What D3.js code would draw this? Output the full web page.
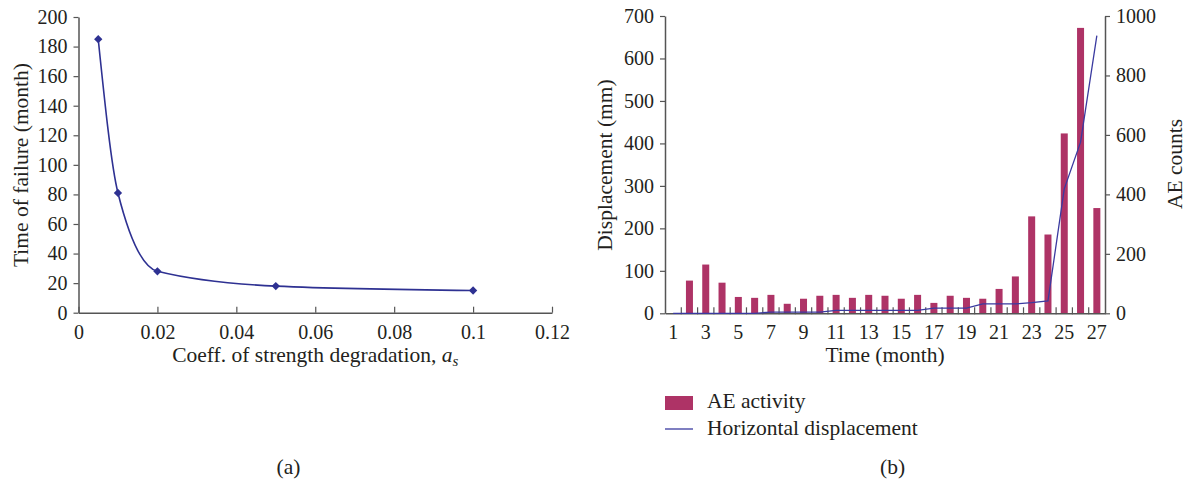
<!DOCTYPE html>
<html>
<head>
<meta charset="utf-8">
<script src="https://cdn.jsdelivr.net/npm/d3@7"></script>
<style>
  body { margin: 0; background: #fff; }
  svg text { font-family: 'Liberation Serif', 'DejaVu Serif', serif; fill: #231f20; }
</style>
</head>
<body>
<div class="chart"></div>
<script>
// (a) time of failure vs coefficient of strength degradation
const coeffs = [0.005, 0.01, 0.02, 0.05, 0.1]
const failureMonths = [185, 81, 28, 18, 15]
const coeffTicks = [0, 0.02, 0.04, 0.06, 0.08, 0.1, 0.12]
const failureTicks = [0, 20, 40, 60, 80, 100, 120, 140, 160, 180, 200]

// (b) AE activity and horizontal displacement by month
const months = d3.range(1, 28)
const aeCounts = [0, 110, 164, 103, 55, 52, 62, 32, 49, 59, 62, 52, 62, 59, 49, 62, 35, 59, 52, 49, 82, 124, 326, 265, 605, 960, 354]
const displacement = [0, 0, 0, 0, 0, 0, 3, 3, 3, 3, 7, 7, 7, 7, 7, 7, 12, 12, 12, 22, 22, 22, 25, 29, 293, 403, 654]
const dispTicks = [0, 100, 200, 300, 400, 500, 600, 700]
const countTicks = [0, 200, 400, 600, 800, 1000]
const monthLabels = months.filter(m => m % 2 === 1)

const W = 1187, H = 481
const tickFont = 20
const titleFont = 21.5
const serif = "'Liberation Serif', 'DejaVu Serif', serif"
const navy = '#2e3192'
const barColour = '#ae3366'
const axisColour = '#555'

const svg = d3.select('.chart').append('svg')
    .attr('width', W)
    .attr('height', H)
    .attr('font-family', serif)

function styleAxis(g) {
    g.attr('font-size', tickFont).attr('font-family', serif)
    g.select('.domain').style('stroke', axisColour).style('stroke-width', 1.5)
    g.selectAll('.tick line').style('stroke', axisColour).style('stroke-width', 1.2)
    g.selectAll('.tick text').style('fill', '#231f20')
}

function title(x, y, text, rotate) {
    return svg.append('text')
        .attr('transform', `translate(${x},${y})` + (rotate ? ' rotate(-90)' : ''))
        .attr('text-anchor', 'middle')
        .attr('font-size', titleFont)
        .text(text)
}

// ---------- (a) ----------
const xA = d3.scaleLinear().domain([0, 0.12]).range([78.5, 552])
const yA = d3.scaleLinear().domain([0, 200]).range([312.7, 17])

svg.append('g')
    .attr('transform', `translate(0,${yA(0)})`)
    .call(d3.axisBottom(xA).tickValues(coeffTicks).tickFormat(d => String(+d.toFixed(2)))
        .tickSizeInner(-6).tickSizeOuter(0).tickPadding(12))
    .call(styleAxis)

svg.append('g')
    .attr('transform', `translate(${xA(0)},0)`)
    .call(d3.axisLeft(yA).tickValues(failureTicks).tickSizeInner(5).tickSizeOuter(0).tickPadding(6))
    .call(styleAxis)

const ptsA = coeffs.map((c, i) => [c, failureMonths[i]])

svg.append('path')
    .datum(ptsA)
    .attr('fill', 'none')
    .attr('stroke', navy)
    .attr('stroke-width', 1.6)
    .attr('d', d3.line().x(d => xA(d[0])).y(d => yA(d[1])).curve(d3.curveMonotoneX))

svg.selectAll('.diamond')
    .data(ptsA)
    .enter().append('path')
    .attr('class', 'diamond')
    .attr('transform', d => `translate(${xA(d[0])},${yA(d[1])})`)
    .attr('d', d3.symbol().type(d3.symbolDiamond2).size(44))
    .attr('fill', navy)

title(28, 165, 'Time of failure (month)', true)

const xlab = title((xA(0) + xA(0.12)) / 2, 362, '')
xlab.append('tspan').text('Coeff. of strength degradation, ')
xlab.append('tspan').attr('font-style', 'italic').text('a')
xlab.append('tspan').attr('font-style', 'italic').attr('font-size', 15).attr('dy', 4).text('s')

title(288.5, 474, '(a)')

// ---------- (b) ----------
const left = 665, right = 1105
const xB = d3.scaleBand().domain(months).range([left, right]).paddingInner(0.57).paddingOuter(0.285)
const xEdge = d3.scaleBand().domain(months).range([left, right])
const yL = d3.scaleLinear().domain([0, 700]).range([313.3, 16])
const yR = d3.scaleLinear().domain([0, 1000]).range([313.3, 16])

svg.selectAll('.ae-bar')
    .data(months)
    .enter().append('rect')
    .attr('class', 'ae-bar')
    .attr('x', m => xB(m))
    .attr('y', (m, i) => yR(aeCounts[i]))
    .attr('width', xB.bandwidth())
    .attr('height', (m, i) => yR(0) - yR(aeCounts[i]))
    .attr('fill', barColour)

// category boundary ticks
const gx = svg.append('g')
    .attr('transform', `translate(0,${yL(0)})`)
    .call(d3.axisBottom(xEdge).tickValues(monthLabels).tickSize(0).tickPadding(12))
    .call(styleAxis)
gx.selectAll('.edge')
    .data(months.slice(1))
    .enter().append('line')
    .attr('class', 'edge')
    .attr('x1', m => xEdge(m)).attr('x2', m => xEdge(m))
    .attr('y1', 1).attr('y2', -6)
    .style('stroke', axisColour).style('stroke-width', 1.2)

svg.append('g')
    .attr('transform', `translate(${left},0)`)
    .call(d3.axisLeft(yL).tickValues(dispTicks).tickSizeInner(5).tickSizeOuter(0).tickPadding(6))
    .call(styleAxis)

svg.append('g')
    .attr('transform', `translate(${right},0)`)
    .call(d3.axisRight(yR).tickValues(countTicks).tickFormat(d3.format('d')).tickSizeInner(5).tickSizeOuter(0).tickPadding(6))
    .call(styleAxis)

svg.append('path')
    .datum(displacement)
    .attr('fill', 'none')
    .attr('stroke', '#3a3aa0')
    .attr('stroke-width', 1.3)
    .attr('d', d3.line().x((d, i) => xEdge(months[i]) + xEdge.bandwidth() / 2).y(d => yL(d)))

title(612, 165, 'Displacement (mm)', true)
title(1182, 164, 'AE counts', true)
title((left + right) / 2, 362, 'Time (month)')

// legend
svg.append('rect')
    .attr('x', 665).attr('y', 396)
    .attr('width', 28).attr('height', 14)
    .attr('fill', barColour)
svg.append('text')
    .attr('x', 707).attr('y', 408)
    .attr('font-size', titleFont)
    .text('AE activity')
svg.append('line')
    .attr('x1', 665).attr('x2', 693)
    .attr('y1', 429).attr('y2', 429)
    .attr('stroke', '#3a3aa0').attr('stroke-width', 1.3)
svg.append('text')
    .attr('x', 707).attr('y', 435)
    .attr('font-size', titleFont)
    .text('Horizontal displacement')

title(892.5, 474, '(b)')
</script>
</body>
</html>
